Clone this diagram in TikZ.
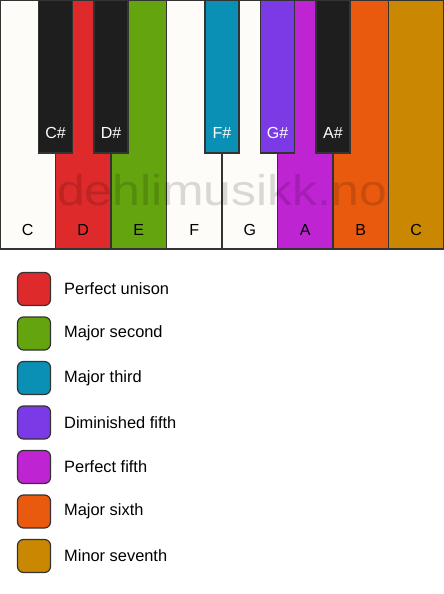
\documentclass[tikz,border=0pt]{standalone}
\usepackage{fontspec}
\setmainfont{Liberation Sans}
\usepackage{xcolor}
\usetikzlibrary{positioning}
\definecolor{keywhite}{HTML}{FDFCF9}
\definecolor{keyblack}{HTML}{1E1E1E}
\definecolor{keyline}{HTML}{333333}
\definecolor{unison}{HTML}{DE2A2A}
\definecolor{second}{HTML}{64A40E}
\definecolor{third}{HTML}{0A90B4}
\definecolor{dimfifth}{HTML}{7C3AE6}
\definecolor{fifth}{HTML}{BF24D3}
\definecolor{sixth}{HTML}{EA5A0E}
\definecolor{seventh}{HTML}{C98702}
\tikzset{white key/.style={draw=keyline,fill=keywhite,line width=1.2pt,minimum width=55.5pt,minimum height=249pt,inner sep=0pt,outer sep=0pt,anchor=north west},
black key/.style={draw=keyline,fill=keyblack,line width=1.2pt,minimum width=34pt,minimum height=153pt,inner sep=0pt,outer sep=0pt,anchor=north},
key label/.style={font=\fontsize{16}{19}\selectfont,inner sep=0pt,anchor=base},
swatch/.style={draw=keyline,line width=1.2pt,rounded corners=6pt,minimum size=33pt,inner sep=0pt,outer sep=0pt},
legend text/.style={font=\fontsize{16.4}{19}\selectfont,inner sep=0pt,anchor=west},}

\begin{document}
\begin{tikzpicture}[x=1pt,y=1pt]
    \useasboundingbox[fill=white] (0,0) rectangle (444,-594);

    % white keys
    \node[white key] (c) at (0,0) {};
    \node[white key,fill=unison] (d) at (55.5,0) {};
    \node[white key,fill=second] (e) at (111,0) {};
    \node[white key] (f) at (166.5,0) {};
    \node[white key] (g) at (222,0) {};
    \node[white key,fill=fifth] (a) at (277.5,0) {};
    \node[white key,fill=sixth] (b) at (333,0) {};
    \node[white key,fill=seventh] (c2) at (388.5,0) {};

    \node[key label] (lc) at ([yshift=13.5pt]c.south) {C};
    \node[key label] (ld) at ([yshift=13.5pt]d.south) {D};
    \node[key label] (le) at ([yshift=13.5pt]e.south) {E};
    \node[key label] (lf) at ([yshift=13.5pt]f.south) {F};
    \node[key label] (lg) at ([yshift=13.5pt]g.south) {G};
    \node[key label] (la) at ([yshift=13.5pt]a.south) {A};
    \node[key label] (lb) at ([yshift=13.5pt]b.south) {B};
    \node[key label] (lc2) at ([yshift=13.5pt]c2.south) {C};

    % watermark
    \node[inner sep=0pt,anchor=base,text=black,text opacity=0.14,xscale=1.16,font=\fontsize{43}{50}\selectfont] (mark) at (222,-205) {dehlimusikk.no};

    % black keys
    \node[black key] (cs) at (c.north east) {};
    \node[black key] (ds) at (d.north east) {};
    \node[black key,fill=third] (fs) at (f.north east) {};
    \node[black key,fill=dimfifth] (gs) at (g.north east) {};
    \node[black key] (as) at (a.north east) {};

    \node[key label,text=white] (lcs) at ([yshift=14.5pt]cs.south) {C\#};
    \node[key label,text=white] (lds) at ([yshift=14.5pt]ds.south) {D\#};
    \node[key label,text=white] (lfs) at ([yshift=14.5pt]fs.south) {F\#};
    \node[key label,text=white] (lgs) at ([yshift=14.5pt]gs.south) {G\#};
    \node[key label,text=white] (las) at ([yshift=14.5pt]as.south) {A\#};

    % legend
    \node[swatch,fill=unison] (s1) at (34,-289) {};
    \node[swatch,fill=second] (s2) [below=11.5pt of s1] {};
    \node[swatch,fill=third] (s3) [below=11.5pt of s2] {};
    \node[swatch,fill=dimfifth] (s4) [below=11.5pt of s3] {};
    \node[swatch,fill=fifth] (s5) [below=11.5pt of s4] {};
    \node[swatch,fill=sixth] (s6) [below=11.5pt of s5] {};
    \node[swatch,fill=seventh] (s7) [below=11.5pt of s6] {};

    \node[legend text] (t1) [right=13.5pt of s1] {Perfect unison};
    \node[legend text] (t2) [right=13.5pt of s2] {Major second};
    \node[legend text] (t3) [right=13.5pt of s3] {Major third};
    \node[legend text] (t4) [right=13.5pt of s4] {Diminished fifth};
    \node[legend text] (t5) [right=13.5pt of s5] {Perfect fifth};
    \node[legend text] (t6) [right=13.5pt of s6] {Major sixth};
    \node[legend text] (t7) [right=13.5pt of s7] {Minor seventh};
\end{tikzpicture}
\end{document}
